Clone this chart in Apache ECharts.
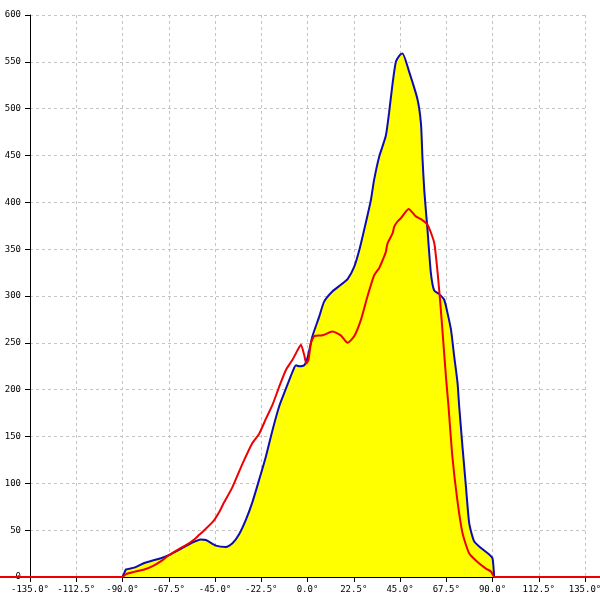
<!DOCTYPE html>
<html>
<head>
<meta charset="utf-8">
<script src="https://cdn.jsdelivr.net/npm/echarts@6/dist/echarts.min.js"></script>
<style>
html,body{margin:0;padding:0;background:#fff;}
#c{width:600px;height:600px;}
</style>
</head>
<body>
<div id="c"></div>
<script>
// Angles (degrees) and counts for the blue (filled) curve
const blueAngles = [-90, -89, -88.3, -84.3, -79.4, -76.2, -71.3, -67.3, -61.6, -56.7, -51.9, -49.4, -44.6, -39.7, -36.5, -33.2, -30.0, -26.8, -23.5, -20.2, -17.0, -13.8, -10.5, -7.3, -5.6, -4.0, -1.6, 0, 2.4, 5.7, 8.1, 12.2, 16.2, 19.5, 22.7, 25.2, 27.6, 30.8, 32.4, 34.9, 38.1, 39.7, 41.4, 43.0, 44.8, 46.2, 49.5, 53.5, 55.2, 55.9, 56.8, 58.4, 60.0, 61.6, 64.1, 66.5, 68.1, 69.8, 71.4, 73.0, 73.8, 75.4, 77.1, 78.7, 81.1, 84.4, 88.4, 90.0, 90.8];
const blueValues = [0, 5, 8, 10, 15, 17, 20, 23.5, 30, 36, 40, 39.5, 33.5, 32, 36, 46, 61, 80, 104, 129, 157, 182, 201, 219, 226, 225, 226, 234, 257, 278, 294, 305, 312, 318, 331, 349, 371, 402, 424, 449, 471, 496, 527, 550, 557, 559, 539, 510, 484, 449, 413, 370, 325, 306, 302, 296, 282, 264, 235, 207, 182, 139, 96, 57, 38, 31, 24, 20, 0];

// Angles (degrees) and counts for the red curve
const redAngles = [-160, -90, -88.3, -84.3, -79.4, -74.6, -70.5, -67.3, -63.2, -59.2, -55.1, -52.7, -50.2, -46.0, -42.8, -40.5, -36.5, -31.6, -26.8, -23.5, -20.2, -17.0, -13.8, -10.5, -7.3, -5.6, -3.2, -1.6, -0.6, 0.5, 1.7, 3.3, 7.3, 12.2, 16.2, 19.5, 22.7, 25.9, 29.1, 32.4, 34.9, 36.5, 38.1, 38.9, 41.4, 42.2, 43.6, 45.4, 49.2, 52.7, 55.9, 58.4, 60.8, 61.8, 63.3, 64.7, 66.1, 67.5, 68.6, 70.5, 72.9, 75.4, 78.7, 82.7, 86.8, 89.2, 90.0, 90.8, 160];
const redValues = [0, 0, 3, 5.5, 8, 12.5, 18, 23.5, 29, 34, 40, 45, 50, 59, 70, 80, 96, 121, 143, 153, 169, 184, 203, 221, 232, 239, 248, 237, 228, 232, 250, 257, 258, 262, 258, 250, 257, 274, 299, 322, 330, 338, 347, 356, 367, 374, 379, 383, 393, 385, 381, 376, 363, 355, 325, 290, 250, 210, 182, 128, 82, 47, 25, 16, 9, 6, 3, 0, 0];

const toPairs = (xs, ys) => xs.map((x, i) => [x, ys[i]]);

// Main plot extent and the full-width overlay scale (same px/deg) for the red trace
const W = 600, L = 30, R = 15, XMIN = -135, XMAX = 135;
const degPerPx = (XMAX - XMIN) / (W - L - R);
const fullMin = XMIN - L * degPerPx, fullMax = XMAX + R * degPerPx;

const chart = echarts.init(document.getElementById('c'), null, {renderer: 'canvas'});
const labelFont = {fontFamily: 'DejaVu Sans Mono', fontSize: 9, color: '#000'};
const gridLine = {show: true, lineStyle: {color: '#c4c4c4', type: [3, 3], width: 1}};

chart.setOption({
  animation: false,
  backgroundColor: '#ffffff',
  grid: [
    {left: L, right: R, top: 15, bottom: 23, containLabel: false, outerBoundsMode: 'none'},
    {left: 0, right: 0, top: 15, bottom: 23, containLabel: false, outerBoundsMode: 'none'}
  ],
  xAxis: [{
    gridIndex: 0, type: 'value', min: XMIN, max: XMAX, interval: 22.5,
    axisLine: {show: true, onZero: false, lineStyle: {color: '#000', width: 1}},
    axisTick: {show: true, length: 5, lineStyle: {color: '#000'}},
    axisLabel: Object.assign({margin: 8, formatter: v => v.toFixed(1) + '°', hideOverlap: false}, labelFont),
    splitLine: gridLine
  }, {
    gridIndex: 1, type: 'value', min: fullMin, max: fullMax, show: false
  }],
  yAxis: [{
    gridIndex: 0, type: 'value', min: 0, max: 600, interval: 50,
    axisLine: {show: true, onZero: false, lineStyle: {color: '#000', width: 1}},
    axisTick: {show: true, length: 5, lineStyle: {color: '#000'}},
    axisLabel: Object.assign({margin: 9}, labelFont),
    splitLine: gridLine
  }, {
    gridIndex: 1, type: 'value', min: 0, max: 600, show: false
  }],
  series: [
    {
      type: 'line', xAxisIndex: 0, yAxisIndex: 0, data: toPairs(blueAngles, blueValues),
      showSymbol: false, smooth: 0.2, z: 2,
      lineStyle: {color: '#0c0cb4', width: 2},
      areaStyle: {color: '#ffff00', opacity: 1}
    },
    {
      type: 'line', xAxisIndex: 1, yAxisIndex: 1, data: toPairs(redAngles, redValues),
      showSymbol: false, smooth: 0.2, z: 3,
      lineStyle: {color: '#ee0000', width: 2}
    }
  ]
});
</script>
</body>
</html>
